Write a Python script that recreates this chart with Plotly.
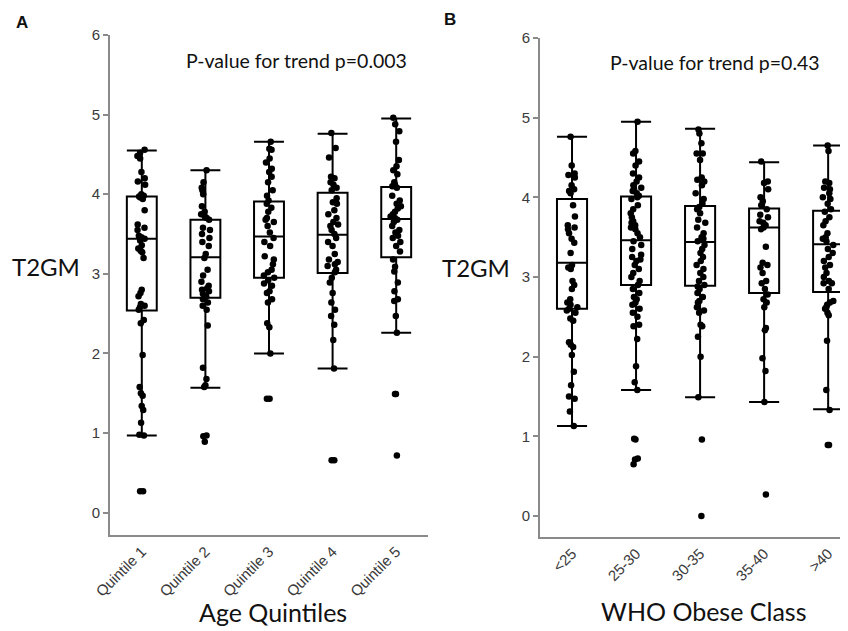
import plotly.graph_objects as go

# ---------------- data ----------------
age_groups = ["Quintile 1", "Quintile 2", "Quintile 3", "Quintile 4", "Quintile 5"]
bmi_groups = ["<25", "25-30", "30-35", "35-40", ">40"]

# box statistics
age_q1 = [2.54, 2.70, 2.95, 3.01, 3.21]
age_median = [3.44, 3.21, 3.47, 3.49, 3.69]
age_q3 = [3.97, 3.68, 3.91, 4.02, 4.09]
age_lower = [0.97, 1.57, 2.00, 1.81, 2.26]
age_upper = [4.55, 4.30, 4.66, 4.76, 4.95]

bmi_q1 = [2.60, 2.90, 2.89, 2.80, 2.81]
bmi_median = [3.18, 3.46, 3.44, 3.62, 3.41]
bmi_q3 = [3.98, 4.01, 3.89, 3.86, 3.83]
bmi_lower = [1.13, 1.58, 1.49, 1.43, 1.34]
bmi_upper = [4.76, 4.95, 4.86, 4.44, 4.65]

# individual T2GM values per group
age_q1_pts = [4.56, 4.52, 4.48, 4.45, 4.28, 4.20, 4.16, 4.12, 4.00, 3.98, 3.97, 3.96, 3.94,
              3.80, 3.62, 3.58, 3.55, 3.48, 3.46, 3.44, 3.42, 3.36, 3.32, 3.29, 3.27, 3.20,
              2.80, 2.76, 2.72, 2.62, 2.60, 2.58, 2.55, 2.42, 2.38, 1.98, 1.58, 1.50, 1.47,
              1.34, 1.29, 1.13, 0.98, 0.97, 0.27, 0.27]
age_q2_pts = [4.30, 4.15, 4.08, 4.05, 4.00, 3.85, 3.78, 3.75, 3.72, 3.70, 3.68, 3.58, 3.55,
              3.50, 3.45, 3.40, 3.35, 3.25, 3.20, 3.05, 2.98, 2.90, 2.85, 2.82, 2.80, 2.78,
              2.75, 2.72, 2.70, 2.68, 2.64, 2.60, 2.55, 2.35, 1.82, 1.68, 1.60, 1.58, 0.97,
              0.96, 0.89]
age_q3_pts = [4.66, 4.57, 4.56, 4.45, 4.40, 4.32, 4.28, 4.22, 4.15, 4.05, 3.98, 3.92, 3.88,
              3.83, 3.78, 3.70, 3.68, 3.65, 3.60, 3.52, 3.45, 3.40, 3.35, 3.22, 3.18, 3.12,
              3.05, 3.02, 2.98, 2.95, 2.92, 2.88, 2.85, 2.78, 2.76, 2.68, 2.64, 2.38, 2.33,
              2.00, 1.43, 1.43]
age_q4_pts = [4.77, 4.58, 4.46, 4.22, 4.20, 4.15, 4.12, 4.08, 4.05, 3.95, 3.90, 3.88, 3.80,
              3.75, 3.70, 3.65, 3.62, 3.60, 3.55, 3.50, 3.45, 3.40, 3.35, 3.25, 3.18, 3.15,
              3.12, 3.10, 3.05, 3.02, 2.95, 2.89, 2.76, 2.64, 2.55, 2.47, 2.36, 2.17, 1.81,
              0.66, 0.66]
age_q5_pts = [4.96, 4.88, 4.79, 4.66, 4.43, 4.35, 4.30, 4.25, 4.15, 4.12, 4.10, 4.08, 3.98,
              3.92, 3.88, 3.85, 3.82, 3.78, 3.75, 3.72, 3.70, 3.68, 3.65, 3.60, 3.55, 3.52,
              3.48, 3.45, 3.40, 3.35, 3.28, 3.18, 3.09, 3.03, 2.89, 2.78, 2.68, 2.66, 2.47,
              2.26, 1.49, 1.49, 0.72]

bmi_lt25_pts = [4.76, 4.40, 4.30, 4.28, 4.25, 4.15, 4.10, 4.08, 4.05, 3.90, 3.76, 3.65, 3.62,
                3.60, 3.55, 3.48, 3.43, 3.30, 3.15, 3.12, 3.10, 2.95, 2.90, 2.85, 2.72, 2.68,
                2.65, 2.62, 2.60, 2.58, 2.55, 2.48, 2.45, 2.18, 2.15, 2.12, 2.02, 1.81, 1.64,
                1.50, 1.47, 1.31, 1.13]
bmi_25_30_pts = [4.95, 4.58, 4.55, 4.45, 4.40, 4.30, 4.25, 4.20, 4.15, 4.12, 4.10, 4.08, 4.05,
                 4.02, 4.00, 3.98, 3.90, 3.85, 3.80, 3.75, 3.70, 3.68, 3.65, 3.62, 3.60, 3.55,
                 3.50, 3.45, 3.40, 3.35, 3.28, 3.25, 3.22, 3.20, 3.15, 3.10, 3.05, 3.00, 2.95,
                 2.90, 2.85, 2.80, 2.75, 2.72, 2.68, 2.65, 2.60, 2.55, 2.50, 2.40, 2.38, 2.22,
                 1.88, 1.68, 1.58, 0.97, 0.96, 0.72, 0.71, 0.65]
bmi_30_35_pts = [4.85, 4.80, 4.68, 4.55, 4.55, 4.47, 4.25, 4.22, 4.20, 4.15, 4.05, 3.98, 3.92,
                 3.88, 3.85, 3.80, 3.72, 3.68, 3.62, 3.55, 3.50, 3.48, 3.45, 3.40, 3.35, 3.30,
                 3.25, 3.20, 3.15, 3.10, 3.05, 3.00, 2.95, 2.90, 2.88, 2.85, 2.80, 2.75, 2.70,
                 2.68, 2.62, 2.58, 2.55, 2.40, 2.38, 2.25, 2.00, 1.49, 0.96, 0.00]
bmi_35_40_pts = [4.45, 4.20, 4.18, 4.10, 4.00, 3.95, 3.90, 3.85, 3.78, 3.75, 3.70, 3.68, 3.65,
                 3.62, 3.60, 3.38, 3.18, 3.15, 3.12, 3.05, 2.95, 2.92, 2.85, 2.78, 2.72, 2.68,
                 2.62, 2.36, 2.33, 1.98, 1.82, 1.43, 0.27]
bmi_gt40_pts = [4.65, 4.58, 4.20, 4.18, 4.12, 4.10, 4.05, 4.00, 3.98, 3.92, 3.85, 3.82, 3.75,
                3.70, 3.65, 3.55, 3.50, 3.48, 3.45, 3.40, 3.35, 3.30, 3.25, 3.20, 3.15, 3.12,
                3.05, 3.00, 2.95, 2.92, 2.92, 2.85, 2.70, 2.68, 2.65, 2.62, 2.60, 2.55, 2.52,
                2.20, 1.58, 1.33, 0.89, 0.89]

age_points = [age_q1_pts, age_q2_pts, age_q3_pts, age_q4_pts, age_q5_pts]
bmi_points = [bmi_lt25_pts, bmi_25_30_pts, bmi_30_35_pts, bmi_35_40_pts, bmi_gt40_pts]

# ---------------- figure ----------------
# the page body has an 8px margin: the figure starts at (8, 8) in the window
W, H = 840, 623
OFF = 8

fig = go.Figure()

BOX_W = 0.47
AXIS_COL = "#8a8a8a"
TICK_FONT = dict(family="Liberation Sans, Arial, sans-serif", size=15, color="#3a3a3a")
CAT_FONT = dict(family="Liberation Sans, Arial, sans-serif", size=15, color="#3a3a3a")


def add_panel(groups, q1, med, q3, lo, hi, pts, xa, ya):
    fig.add_trace(go.Box(
        x=groups, q1=q1, median=med, q3=q3, lowerfence=lo, upperfence=hi,
        boxpoints=False, whiskerwidth=1, width=BOX_W,
        fillcolor="rgba(0,0,0,0)", line=dict(color="black", width=2),
        xaxis=xa, yaxis=ya, showlegend=False, hoverinfo="skip",
    ))
    xs, ys = [], []
    for g, vals in zip(groups, pts):
        xs += [g] * len(vals)
        ys += vals
    fig.add_trace(go.Box(
        x=xs, y=ys, boxpoints="all", jitter=0.4, pointpos=0, width=BOX_W,
        fillcolor="rgba(0,0,0,0)", line=dict(color="rgba(0,0,0,0)", width=0),
        marker=dict(color="black", size=6.5),
        xaxis=xa, yaxis=ya, showlegend=False,
    ))


add_panel(age_groups, age_q1, age_median, age_q3, age_lower, age_upper, age_points, "x", "y")
add_panel(bmi_groups, bmi_q1, bmi_median, bmi_q3, bmi_lower, bmi_upper, bmi_points, "x2", "y2")

common_y = dict(showgrid=False, zeroline=False, showline=True, linecolor=AXIS_COL,
                linewidth=2, ticks="outside", ticklen=5, tickcolor=AXIS_COL, tickwidth=1.5,
                tickfont=TICK_FONT, dtick=1, tick0=0, automargin=False)
common_x = dict(showgrid=False, zeroline=False, showline=True, linecolor=AXIS_COL, linewidth=2,
                ticks="", tickangle=-45, tickfont=CAT_FONT, type="category", automargin=False)


def px_x(v):
    return (v - OFF) / W


def px_y(v):
    return 1 - (v - OFF) / H


fig.update_layout(
    width=W, height=H,
    margin=dict(l=0, r=0, t=0, b=0, autoexpand=False),
    paper_bgcolor="white", plot_bgcolor="white",
    boxmode="overlay", showlegend=False,
    xaxis=dict(common_x, domain=[px_x(110), px_x(428)], range=[-0.5, 4.5], anchor="y"),
    yaxis=dict(common_y, domain=[px_y(535), px_y(35)], range=[-0.28, 6], anchor="x"),
    xaxis2=dict(common_x, domain=[px_x(540), 1.0], range=[-0.5, 4.31], anchor="y2"),
    yaxis2=dict(common_y, domain=[px_y(537), px_y(38)], range=[-0.264, 6], anchor="x2"),
)

ann = [
    dict(text="<b>A</b>", x=22, y=22, size=17, family="Liberation Sans, Arial, sans-serif"),
    dict(text="<b>B</b>", x=450, y=20, size=17, family="Liberation Sans, Arial, sans-serif"),
    dict(text="P-value for trend p=0.003", x=296, y=60, size=19.5, family="Lato, sans-serif"),
    dict(text="P-value for trend p=0.43", x=715, y=62, size=19.5, family="Lato, sans-serif"),
    dict(text="T2GM", x=46, y=266, size=24, family="Lato, sans-serif"),
    dict(text="T2GM", x=476, y=267, size=24, family="Lato, sans-serif"),
    dict(text="Age Quintiles", x=273, y=612, size=25, family="Lato, sans-serif"),
    dict(text="WHO Obese Class", x=703, y=611, size=25, family="Lato, sans-serif"),
]
for a in ann:
    fig.add_annotation(
        text=a["text"], x=px_x(a["x"]), y=px_y(a["y"]), xref="paper", yref="paper",
        xanchor="center", yanchor="middle", showarrow=False,
        font=dict(family=a["family"], size=a["size"], color="#111111"),
    )

fig.write_html("out.html")
